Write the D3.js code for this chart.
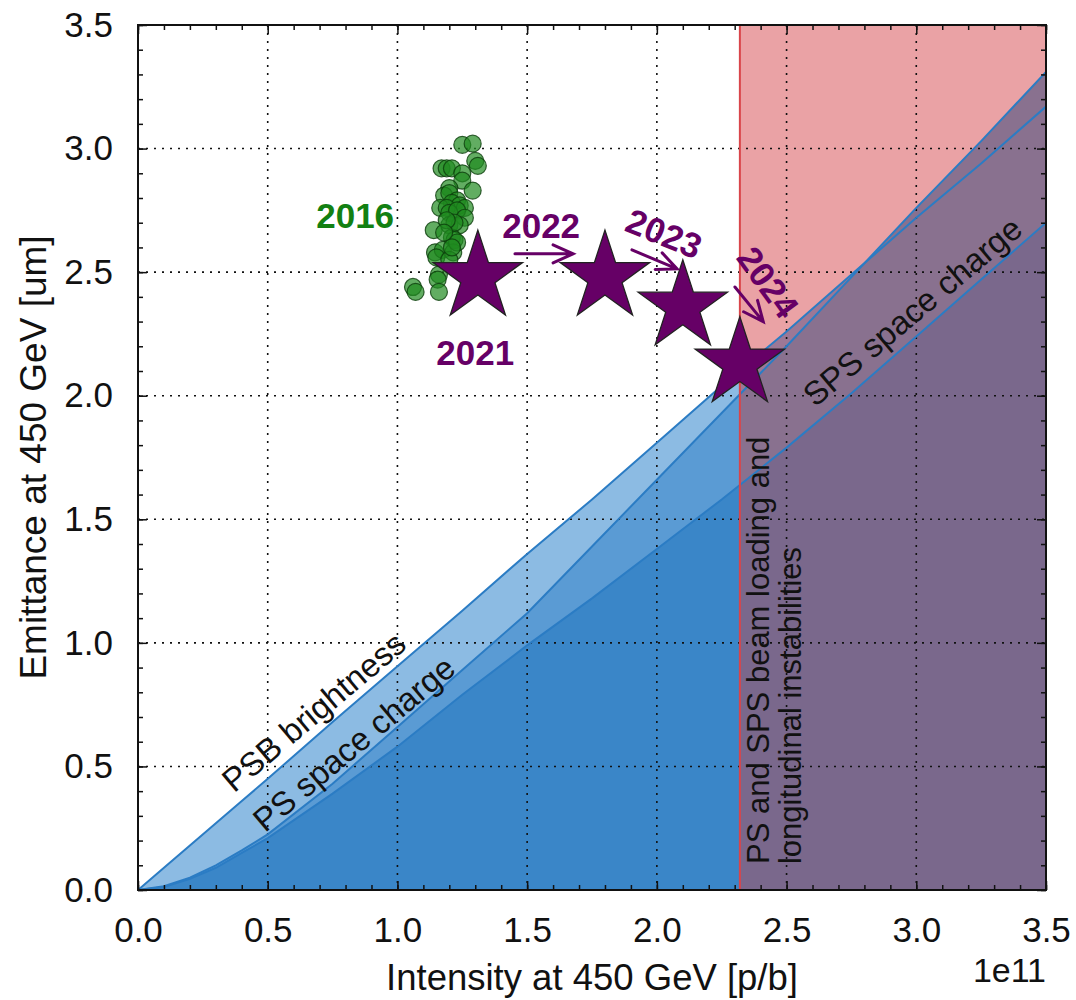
<!DOCTYPE html>
<html>
<head>
<meta charset="utf-8">
<script src="https://cdn.jsdelivr.net/npm/d3@7"></script>
<style>
  body { margin: 0; background: #fff; }
  svg { display: block; }
  text { font-family: "Liberation Sans", Arial, sans-serif; }
</style>
</head>
<body>
<div id="chart"></div>
<script>
// Limits (intensity in 1e11 p/b, emittance in um)
const intensity      = [0, 0.1, 0.2, 0.3, 0.4, 0.5, 0.75, 1.0, 1.25, 1.5, 1.75, 2.0, 2.25, 2.5, 2.75, 3.0, 3.25, 3.5];
const psbBrightness  = [0, 0.09, 0.18, 0.27, 0.36, 0.45, 0.68, 0.905, 1.13, 1.36, 1.58, 1.81, 2.04, 2.26, 2.49, 2.72, 2.94, 3.17];
const psSpaceCharge  = [0, 0.015, 0.05, 0.10, 0.16, 0.225, 0.43, 0.66, 0.89, 1.12, 1.39, 1.66, 1.93, 2.20, 2.48, 2.76, 3.03, 3.31];
const spsSpaceCharge = [0, 0.012, 0.045, 0.09, 0.15, 0.21, 0.39, 0.58, 0.79, 0.99, 1.18, 1.38, 1.58, 1.79, 2.01, 2.24, 2.47, 2.70];
const beamLoadingLimit = 2.32;

// 2016 operation
const run2016X = [1.25, 1.29, 1.30, 1.31, 1.17, 1.19, 1.21, 1.25, 1.25, 1.29, 1.20, 1.18, 1.20, 1.23, 1.21, 1.24, 1.26,
                  1.165, 1.19, 1.20, 1.23, 1.26, 1.14, 1.20, 1.24, 1.21, 1.22, 1.145, 1.175, 1.215, 1.15, 1.20, 1.16,
                  1.155, 1.06, 1.07, 1.16, 1.22, 1.19, 1.23, 1.18, 1.21];
const run2016Y = [3.015, 3.02, 2.95, 2.93, 2.92, 2.92, 2.92, 2.90, 2.87, 2.83, 2.84, 2.81, 2.82, 2.79, 2.78, 2.77, 2.76,
                  2.76, 2.76, 2.74, 2.75, 2.72, 2.67, 2.69, 2.69, 2.64, 2.63, 2.58, 2.59, 2.58, 2.56, 2.55, 2.49,
                  2.47, 2.44, 2.42, 2.42, 2.70, 2.71, 2.62, 2.66, 2.60];

// Targets
const starYears = ["2021", "2022", "2023", "2024"];
const starX = [1.31, 1.80, 2.10, 2.32];
const starY = [2.48, 2.48, 2.36, 2.13];

const xTicks = [0, 0.5, 1.0, 1.5, 2.0, 2.5, 3.0, 3.5];
const yTicks = [0, 0.5, 1.0, 1.5, 2.0, 2.5, 3.0, 3.5];

var margin = { top: 25, right: 30, bottom: 110, left: 138 },
    width = 1076 - margin.left - margin.right,
    height = 1000 - margin.top - margin.bottom;

var purple = "#660066", lineBlue = "#2b7cc4";

var svg = d3.select("#chart")
    .append("svg")
    .attr("width", width + margin.left + margin.right)
    .attr("height", height + margin.top + margin.bottom)
    .append("g")
    .attr("transform", "translate(" + margin.left + "," + margin.top + ")");

var x = d3.scaleLinear().domain([0, 3.5]).range([0, width]);
var y = d3.scaleLinear().domain([0, 3.5]).range([height, 0]);

var defs = svg.append("defs");
defs.append("clipPath").attr("id", "plotclip")
    .append("rect").attr("width", width).attr("height", height);
defs.append("clipPath").attr("id", "leftclip")
    .append("rect").attr("width", x(beamLoadingLimit)).attr("height", height);
defs.append("clipPath").attr("id", "rightclip")
    .append("rect").attr("x", x(beamLoadingLimit)).attr("width", width - x(beamLoadingLimit)).attr("height", height);

var plot = svg.append("g").attr("clip-path", "url(#plotclip)");

// Beam loading region
plot.append("rect")
    .attr("x", x(beamLoadingLimit)).attr("y", 0)
    .attr("width", width - x(beamLoadingLimit)).attr("height", height)
    .attr("fill", "#eaa2a5");

// Filled limits (blue left of the limit, purple inside the beam loading region)
var curves = [
    { vals: psbBrightness, fill: "#8cbbe3", shade: "#9c7896" },
    { vals: psSpaceCharge, fill: "#5a9bd4", shade: "#89718f" },
    { vals: spsSpaceCharge, fill: "#3a86c8", shade: "#7a688c" }
];
var area = d3.area()
    .x((d, i) => x(intensity[i]))
    .y0(y(0))
    .y1(d => y(d));
var left = plot.append("g").attr("clip-path", "url(#leftclip)");
var right = plot.append("g").attr("clip-path", "url(#rightclip)");
curves.forEach(c => {
    left.append("path").datum(c.vals).attr("fill", c.fill).attr("d", area);
    right.append("path").datum(c.vals).attr("fill", c.shade).attr("d", area);
});

// Grid
var grid = plot.append("g").attr("stroke", "#111").attr("stroke-width", 1.6).attr("stroke-dasharray", "2,6");
xTicks.slice(1, -1).forEach(t => grid.append("line").attr("x1", x(t)).attr("x2", x(t)).attr("y1", 0).attr("y2", height));
yTicks.slice(1, -1).forEach(t => grid.append("line").attr("y1", y(t)).attr("y2", y(t)).attr("x1", 0).attr("x2", width));

// Limit lines
var line = d3.line().x((d, i) => x(intensity[i])).y(d => y(d));
curves.forEach(c => {
    plot.append("path").datum(c.vals).attr("fill", "none")
        .attr("stroke", lineBlue).attr("stroke-width", 2).attr("d", line);
});

plot.append("line")
    .attr("x1", x(beamLoadingLimit)).attr("x2", x(beamLoadingLimit))
    .attr("y1", 0).attr("y2", height)
    .attr("stroke", "#d9454a").attr("stroke-width", 2);

// Curve labels
var curveLabels = [
    { text: "PSB brightness", x: 0.37, y: 0.39, rot: -40 },
    { text: "PS space charge", x: 0.49, y: 0.23, rot: -40 },
    { text: "SPS space charge", x: 2.61, y: 1.95, rot: -40 }
];
curveLabels.forEach(l => {
    svg.append("text")
        .attr("transform", "translate(" + x(l.x) + "," + y(l.y) + ") rotate(" + l.rot + ")")
        .style("font-size", "33px").attr("fill", "#111")
        .text(l.text);
});

var vText = svg.append("text")
    .attr("transform", "translate(" + x(2.433) + "," + y(0.105) + ") rotate(-90)")
    .style("font-size", "31px").attr("fill", "#111");
vText.append("tspan").attr("x", 0).attr("y", 0).text("PS and SPS beam loading and");
vText.append("tspan").attr("x", 0).attr("y", 32).text("longitudinal instabilities");

// 2016 points
svg.append("g")
    .selectAll("circle")
    .data(run2016X)
    .enter()
    .append("circle")
    .attr("cx", (d, i) => x(d))
    .attr("cy", (d, i) => y(run2016Y[i]))
    .attr("r", 8.5)
    .attr("fill", "#1f8a1f")
    .attr("fill-opacity", 0.7)
    .attr("stroke", "#0d3d0d")
    .attr("stroke-opacity", 0.8)
    .attr("stroke-width", 1.2);

// Stars
function starPath(R) {
    var r = R * 0.382, pts = [];
    for (var k = 0; k < 10; k++) {
        var a = -Math.PI / 2 + k * Math.PI / 5, rad = k % 2 ? r : R;
        pts.push([rad * Math.cos(a), rad * Math.sin(a)]);
    }
    return "M" + pts.map(p => p[0].toFixed(2) + "," + p[1].toFixed(2)).join("L") + "Z";
}
svg.append("g")
    .selectAll("path")
    .data(starX)
    .enter()
    .append("path")
    .attr("transform", (d, i) => "translate(" + x(d) + "," + y(starY[i]) + ")")
    .attr("d", starPath(47))
    .attr("fill", purple)
    .attr("stroke", "#222")
    .attr("stroke-width", 1.3);

// Year labels
var yearLabels = [
    { text: "2016", x: 0.837, y: 2.68, rot: 0, color: "#128012" },
    { text: starYears[0], x: 1.30, y: 2.125, rot: 0, color: purple },
    { text: starYears[1], x: 1.554, y: 2.64, rot: 0, color: purple },
    { text: starYears[2], x: 2.01, y: 2.61, rot: 22, color: purple },
    { text: starYears[3], x: 2.39, y: 2.43, rot: 54, color: purple }
];
yearLabels.forEach(l => {
    svg.append("text")
        .attr("transform", "translate(" + x(l.x) + "," + y(l.y) + ") rotate(" + l.rot + ")")
        .attr("text-anchor", "middle")
        .style("font-size", "35px").style("font-weight", "bold")
        .attr("fill", l.color)
        .text(l.text);
});

// Arrows
var arrows = [
    { x1: 1.453, y1: 2.574, x2: 1.677, y2: 2.574 },
    { x1: 1.904, y1: 2.59, x2: 2.078, y2: 2.513 },
    { x1: 2.301, y1: 2.44, x2: 2.41, y2: 2.30 }
];
arrows.forEach(a => {
    var X1 = x(a.x1), Y1 = y(a.y1), X2 = x(a.x2), Y2 = y(a.y2);
    var ang = Math.atan2(Y2 - Y1, X2 - X1), hl = 20, hw = 9;
    var bx = X2 - hl * Math.cos(ang), by = Y2 - hl * Math.sin(ang);
    var px = -Math.sin(ang) * hw, py = Math.cos(ang) * hw;
    svg.append("path")
        .attr("d", "M" + X1 + "," + Y1 + "L" + X2 + "," + Y2 +
            "M" + (bx + px) + "," + (by + py) + "L" + X2 + "," + Y2 + "L" + (bx - px) + "," + (by - py))
        .attr("fill", "none").attr("stroke", purple).attr("stroke-width", 3)
        .attr("stroke-linecap", "round");
});

// Axes and ticks (inward on all sides)
var minor = d3.range(0, 36).map(i => i / 10);
function styleAxis(g) {
    g.selectAll(".domain").remove();
    g.selectAll(".tick line").attr("stroke", "#111").attr("stroke-width", 1.5);
    g.selectAll("text").style("font-size", "35px").attr("fill", "#111")
        .style("font-family", "'Liberation Sans', Arial, sans-serif");
}
svg.append("g").attr("transform", "translate(0," + height + ")")
    .call(d3.axisBottom(x).tickValues(minor).tickSize(-5).tickFormat("")).call(styleAxis);
svg.append("g").attr("transform", "translate(0," + height + ")")
    .call(d3.axisBottom(x).tickValues(xTicks).tickSize(-9).tickPadding(27).tickFormat(d3.format(".1f"))).call(styleAxis);
svg.append("g")
    .call(d3.axisTop(x).tickValues(minor).tickSize(-5).tickFormat("")).call(styleAxis);
svg.append("g")
    .call(d3.axisTop(x).tickValues(xTicks).tickSize(-9).tickFormat("")).call(styleAxis);
svg.append("g")
    .call(d3.axisLeft(y).tickValues(minor).tickSize(-5).tickFormat("")).call(styleAxis);
svg.append("g")
    .call(d3.axisLeft(y).tickValues(yTicks).tickSize(-9).tickPadding(25).tickFormat(d3.format(".1f"))).call(styleAxis);
svg.append("g").attr("transform", "translate(" + width + ",0)")
    .call(d3.axisRight(y).tickValues(minor).tickSize(-5).tickFormat("")).call(styleAxis);
svg.append("g").attr("transform", "translate(" + width + ",0)")
    .call(d3.axisRight(y).tickValues(yTicks).tickSize(-9).tickFormat("")).call(styleAxis);

svg.append("rect")
    .attr("width", width).attr("height", height)
    .attr("fill", "none").attr("stroke", "#111").attr("stroke-width", 2);

// Axis titles
svg.append("text")
    .attr("text-anchor", "middle")
    .attr("x", width / 2)
    .attr("y", height + 100)
    .style("font-size", "36.5px").attr("fill", "#111")
    .text("Intensity at 450 GeV [p/b]");

svg.append("text")
    .attr("text-anchor", "middle")
    .attr("transform", "rotate(-90)")
    .attr("x", -height / 2)
    .attr("y", -margin.left + 46)
    .style("font-size", "37px").attr("fill", "#111")
    .text("Emittance at 450 GeV [um]");

svg.append("text")
    .attr("text-anchor", "end")
    .attr("x", width)
    .attr("y", height + 92)
    .style("font-size", "34px").attr("fill", "#111")
    .text("1e11");
</script>
</body>
</html>
